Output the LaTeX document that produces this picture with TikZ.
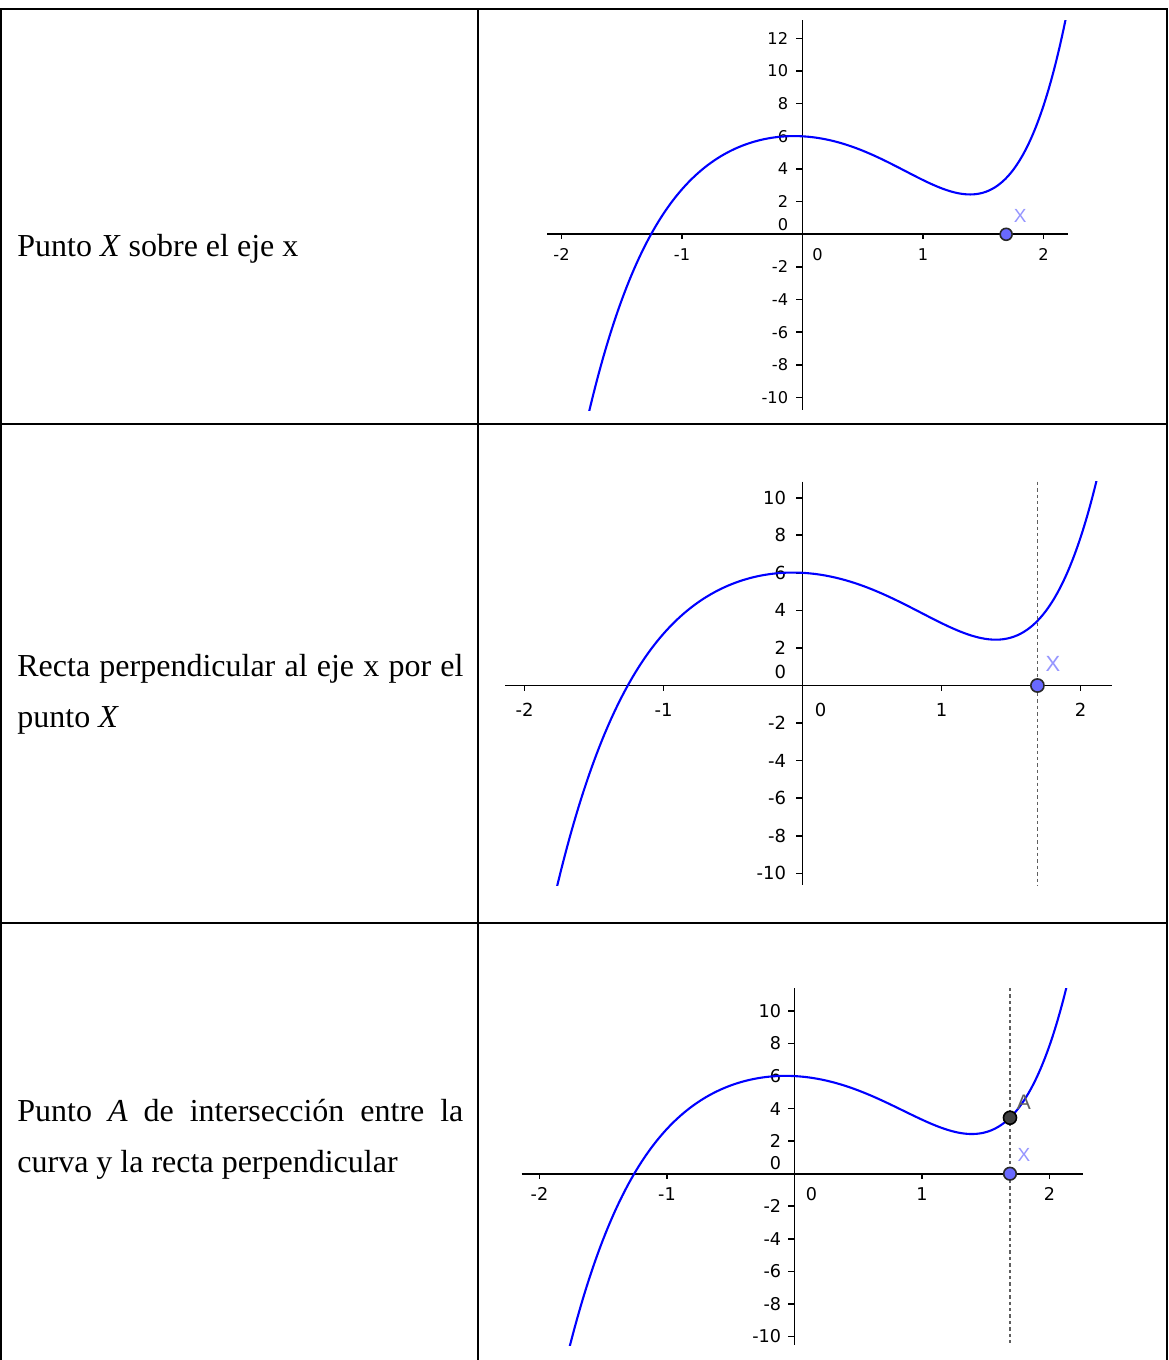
\documentclass[tikz,border=0pt]{standalone}
\usepackage{fontspec}
\setmainfont{Liberation Serif}
\newfontfamily\ggfont{DejaVu Sans}
\newfontfamily\ptfont{Liberation Sans}
\definecolor{curveblue}{RGB}{0,0,255}
\definecolor{ptxfill}{RGB}{105,105,255}
\definecolor{ptxdraw}{RGB}{40,40,40}
\definecolor{xlblcol}{RGB}{150,150,255}
\definecolor{ptafill}{RGB}{64,64,64}
\definecolor{alblcol}{RGB}{95,95,95}
\definecolor{perpgray}{RGB}{95,95,95}
\def\ggfs{8}
% f(x) fitted to the drawn curve
\def\ffun#1{6+#1*(-0.40975+#1*(-2.89025+#1*(0.32172+#1*(-0.089965+#1*(0.37058+#1*0.019754)))))}
\newcommand\ggplot[9]{%
  \draw[axisline] (#6,#3) -- (#7,#3);
  \draw[axisline] (#2,#8) -- (#2,#9);
  \foreach \v/\n in {-2/a,-1/b,1/c,2/d}{%
    \draw[tickline] ({#2+\v*#4},#3) -- ({#2+\v*#4},{#3+5});
    \node[ticklbl,anchor=center] (#1x\n) at ({#2+\v*#4},{#3+\ggxdrop}) {\v};
  }
  \node[ticklbl,anchor=center] (#1xz) at ({#2+\ggzxoff},{#3+\ggxdrop}) {0};
  \foreach \v in {-10,-8,...,\ggymax}{%
    \ifnum\v=0\relax\else
      \pgfmathtruncatemacro\n{\v+20}%
      \draw[tickline] (#2,{#3-\v*#5}) -- ({#2-7},{#3-\v*#5});
      \node[ticklbl,anchor=east] (#1y\n) at ({#2-\gglblgap},{#3-\v*#5}) {\v};
    \fi
  }
  \node[ticklbl,anchor=east] (#1yz) at ({#2-\gglblgap},{#3-\ggzraise}) {0};
  \begin{scope}[shift={(#2,#3)},xscale=#4,yscale=-#5]
    \clip (-3,{(#3-#8)/#5}) rectangle (3,{(#3-#9)/#5});
    \draw[curve] plot[domain=-1.84:2.24,samples=160,smooth] (\x,{\ffun{\x}});
  \end{scope}
}
\begin{document}
\begin{tikzpicture}[x=0.5pt,y=-0.5pt,
  tbl/.style={line width=0.9pt,black},
  celltext/.style={anchor=base west,inner sep=0pt,font=\fontsize{16}{19}\selectfont},
  axisline/.style={line width=0.95pt,black},
  tickline/.style={line width=0.8pt,black},
  ticklbl/.style={inner sep=0pt,font=\ggfont\fontsize{\ggfs}{\ggfs}\selectfont},
  curve/.style={line width=1.05pt,curveblue},
  perp/.style={line width=0.6pt,perpgray,dash pattern=on 1.7pt off 1.5pt},
  ptx/.style={circle,fill=ptxfill,draw=ptxdraw,line width=0.8pt,inner sep=0pt,minimum size=6pt},
  pta/.style={circle,fill=ptafill,draw=black,line width=0.8pt,inner sep=0pt,minimum size=6.5pt},
  xlbl/.style={inner sep=0pt,text=xlblcol,font=\ptfont\fontsize{9.5}{9.5}\selectfont},
  albl/.style={inner sep=0pt,text=alblcol,font=\ptfont\fontsize{10.5}{10.5}\selectfont}]
\useasboundingbox (0,0) rectangle (1168,1360);
\fill[white] (0,0) rectangle (1168,1360);
% table
\draw[tbl] (0,9) -- (1168,9);
\draw[tbl] (1,9) -- (1,1360);
\draw[tbl] (1167,9) -- (1167,1360);
\draw[tbl] (478,9) -- (478,1360);
\draw[tbl] (1,424) -- (1167,424);
\draw[tbl] (1,923) -- (1167,923);
% texts
\node[celltext] (t1) at (17,256) {Punto \textit{X} sobre el eje x};
\node[celltext] (t2a) at (17,676) {\makebox[223pt][s]{Recta perpendicular al eje x por el}};
\node[celltext] (t2b) at (17,727) {punto \textit{X}};
\node[celltext] (t3a) at (17,1121) {\makebox[223pt][s]{Punto \textit{A} de intersección entre la}};
\node[celltext] (t3b) at (17,1172) {curva y la recta perpendicular};
% plot 1
\def\ggfs{8.1}\def\ggxdrop{20.5}\def\ggzxoff{15}\def\ggymax{12}\def\gglblgap{14}\def\ggzraise{9.8}
\ggplot{p}{802.5}{234.3}{120.5}{16.33}{547.3}{1068.3}{20}{410}
\node[ptx,minimum size=6pt] (pX) at ({802.5+1.69*120.5},234.3) {};
\node[xlbl] (pXl) at ({802.5+1.69*120.5+14},215.5) {X};
% plot 2
\def\ggfs{9}\def\ggxdrop{24.5}\def\ggzxoff{18}\def\ggymax{10}\def\gglblgap{16}\def\ggzraise{13.5}
\ggplot{q}{802.5}{685.5}{139}{18.78}{505}{1111.7}{481.7}{885}
\coordinate (qtop) at ({802.5+1.69*139},481.7);
\coordinate (qbot) at ({802.5+1.69*139},885);
\draw[perp] (qtop) -- (qbot);
\node[ptx,minimum size=6.6pt] (qX) at ({802.5+1.69*139},685.5) {};
\node[xlbl,font=\ptfont\fontsize{11}{11}\selectfont] (qXl) at ({802.5+1.69*139+15.6},663.5) {X};
% plot 3
\def\ggfs{8.8}\def\ggxdrop{20.5}\def\ggzxoff{17}\def\ggymax{10}\def\gglblgap{13}\def\ggzraise{10.9}
\ggplot{r}{794.5}{1173.7}{127.5}{16.27}{521.7}{1083.3}{988}{1345}
\coordinate (rtop) at ({794.5+1.69*127.5},988);
\coordinate (rbot) at ({794.5+1.69*127.5},1345);
\draw[perp] (rtop) -- (rbot);
\node[albl] (rAl) at ({794.5+1.69*127.5+14},1102) {A};
\node[pta] (rA) at ({794.5+1.69*127.5},{1173.7-3.44*16.27}) {};
\node[ptx,minimum size=6.3pt] (rX) at ({794.5+1.69*127.5},1173.7) {};
\node[xlbl] (rXl) at ({794.5+1.69*127.5+14},1155) {X};
\end{tikzpicture}
\end{document}
